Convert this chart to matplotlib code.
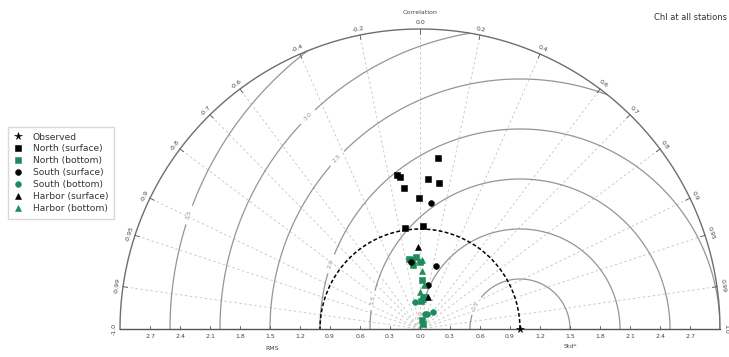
import numpy as np
import matplotlib
matplotlib.use("Agg")
import matplotlib.pyplot as plt

# ---------------- data (normalised std, correlation) ----------------
obs_std = [1.0]
obs_corr = [1.0]

north_surf_std = [1.717, 1.536, 1.557, 1.422, 1.499, 1.469, 1.310, 1.018, 1.031]
north_surf_corr = [0.107, -0.130, -0.148, -0.110, 0.055, 0.127, -0.005, -0.147, 0.032]

north_bot_std = [0.709, 0.721, 0.670, 0.644, 0.490, 0.324, 0.280, 0.092, 0.058, 0.700]
north_bot_corr = [-0.155, -0.055, 0.000, -0.109, 0.041, 0.154, 0.036, 0.217, 0.514, -0.120]

south_surf_std = [1.262, 0.654, 0.442, 0.676]
south_surf_corr = [0.085, 0.240, 0.176, -0.133]

south_bot_std = [0.278, 0.216, 0.164, 0.325, 0.160]
south_bot_corr = [-0.180, 0.601, 0.408, 0.080, 0.310]

harbor_surf_std = [0.817, 0.334]
harbor_surf_corr = [-0.021, 0.249]

harbor_bot_std = [0.583, 0.690, 0.370, 0.440, 0.300]
harbor_bot_corr = [0.029, 0.025, 0.000, 0.090, 0.100]

corr_ticks = [0.0, 0.2, 0.4, 0.6, 0.7, 0.8, 0.9, 0.95, 0.99, 1.0]
corr_labels = ["0.0", "0.2", "0.4", "0.6", "0.7", "0.8", "0.9", "0.95", "0.99", "1.0"]
std_ticks = [0.0, 0.3, 0.6, 0.9, 1.2, 1.5, 1.8, 2.1, 2.4, 2.7]
std_labels = ["0.0", "0.3", "0.6", "0.9", "1.2", "1.5", "1.8", "2.1", "2.4", "2.7"]
rms_levels = [0.5, 1.0, 1.5, 2.0, 2.5, 3.0, 3.5]
rms_label_angles = [152, 172, 169, 161, 137, 135, 161]
std_max = 3.0

GREEN = "#1d8b5c"
GRAY = "#959595"

def to_xy(std, corr):
    std = np.asarray(std, float)
    corr = np.asarray(corr, float)
    return std * corr, std * np.sqrt(1 - corr ** 2)

fig = plt.figure(figsize=(7.29, 3.57), dpi=100)
ax = fig.add_axes([120 / 729, 28 / 357, 600 / 729, 300 / 357])
ax.set_xlim(-std_max, std_max)
ax.set_ylim(0, std_max)
ax.set_aspect("equal")
ax.axis("off")

# correlation radial lines
for c in corr_ticks[:-1]:
    for s in ([1, -1] if c != 0 else [1]):
        th = np.arccos(s * c)
        ax.plot([0, std_max * np.cos(th)], [0, std_max * np.sin(th)],
                ls=(0, (3, 3)), color="#c4c4c4", lw=0.6, zorder=1)

# RMS contours centred on observed point
r = np.linspace(0, std_max, 300)
t = np.linspace(0, np.pi, 600)
R, T = np.meshgrid(r, t)
X, Y = R * np.cos(T), R * np.sin(T)
RMS = np.sqrt(obs_std[0] ** 2 + R ** 2 - 2 * obs_std[0] * R * np.cos(T))
cs = ax.contour(X, Y, RMS, levels=rms_levels, colors=GRAY, linewidths=0.9, zorder=2)
manual = [(obs_std[0] + L * np.cos(np.radians(a)), L * np.sin(np.radians(a)))
          for L, a in zip(rms_levels, rms_label_angles)]
ax.clabel(cs, fmt="%.1f", fontsize=4.5, inline=True, manual=manual, colors=GRAY)

# outer circle and reference std arc
tt = np.linspace(0, np.pi, 400)
ax.plot(std_max * np.cos(tt), std_max * np.sin(tt), color="#6e6e6e", lw=1.0, zorder=3, clip_on=False)
ax.plot(obs_std[0] * np.cos(tt), obs_std[0] * np.sin(tt), color="black", lw=1.1,
        ls=(0, (2.5, 1.5)), zorder=3)
ax.plot([-std_max, std_max], [0, 0], color="#555555", lw=1.0, zorder=3, clip_on=False)

# correlation ticks and labels
for c, lab in zip(corr_ticks, corr_labels):
    for s in ([1, -1] if c != 0 else [1]):
        th = np.arccos(s * c)
        ax.plot([std_max * np.cos(th), 0.985 * std_max * np.cos(th)],
                [std_max * np.sin(th), 0.985 * std_max * np.sin(th)],
                color="#555555", lw=0.6, clip_on=False, zorder=3)
        txt = lab if s > 0 else "-" + lab
        rr = std_max + 0.06
        ax.text(rr * np.cos(th), rr * np.sin(th), txt, fontsize=4.5, color="#444444",
                rotation=np.degrees(th) - 90, ha="center", va="center",
                rotation_mode="anchor", clip_on=False)
ax.text(0, std_max + 0.16, "Correlation", fontsize=4.5, color="#444444",
        ha="center", va="center", clip_on=False)

# std ticks on the baseline
for v, lab in zip(std_ticks, std_labels):
    for s in ([1, -1] if v != 0 else [1]):
        ax.plot([s * v, s * v], [0, 0.03], color="#555555", lw=0.6, clip_on=False)
        ax.text(s * v, -0.08, lab, fontsize=4.5, color="#444444", ha="center",
                va="center", clip_on=False)
ax.text(-1.48, -0.2, "RMS", fontsize=4.5, color="#444444", ha="center", va="center", clip_on=False)
ax.text(1.5, -0.18, "Std*", fontsize=4.5, color="#444444", ha="center", va="center", clip_on=False)

# data points
ms = 4.2
series = [
    (obs_std, obs_corr, "*", "black", "Observed", 5.5),
    (north_surf_std, north_surf_corr, "s", "black", "North (surface)", ms),
    (north_bot_std, north_bot_corr, "s", GREEN, "North (bottom)", ms),
    (south_surf_std, south_surf_corr, "o", "black", "South (surface)", ms),
    (south_bot_std, south_bot_corr, "o", GREEN, "South (bottom)", ms),
    (harbor_surf_std, harbor_surf_corr, "^", "black", "Harbor (surface)", ms),
    (harbor_bot_std, harbor_bot_corr, "^", GREEN, "Harbor (bottom)", ms),
]
handles = []
for sd, cc, mk, col, lab, size in series:
    x, y = to_xy(sd, cc)
    h, = ax.plot(x, y, ls="none", marker=mk, color=col, markersize=size,
                 markeredgewidth=0.4, markeredgecolor=col, label=lab, zorder=6, clip_on=False)
    handles.append(h)

leg = fig.legend(handles=handles, loc="upper left", bbox_to_anchor=(8 / 729, 1 - 127 / 357),
                 fontsize=6.6, frameon=True, fancybox=False, edgecolor="#d0d0d0",
                 handlelength=1.0, labelspacing=0.32, borderpad=0.6, handletextpad=1.1,
                 borderaxespad=0.0)
for t_ in leg.get_texts():
    t_.set_color("#333333")

fig.text(727 / 729, 1 - 18 / 357, "Chl at all stations", fontsize=6.0, color="#333333",
         ha="right", va="center")

fig.savefig("out.png", dpi=100)
